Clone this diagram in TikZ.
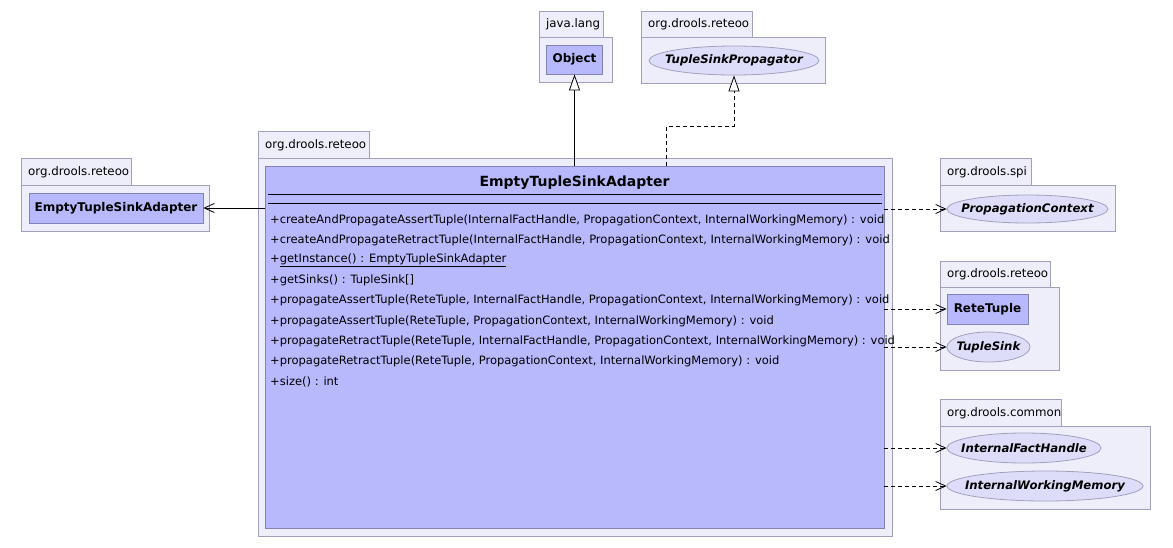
\documentclass[tikz,border=0pt]{standalone}
\usepackage{fontspec}
\setmainfont{DejaVu Sans}
\usetikzlibrary{arrows.meta,shapes.geometric}

\definecolor{pkgfill}{RGB}{238,238,251}
\definecolor{pkgline}{RGB}{160,160,190}
\definecolor{clsfill}{RGB}{184,184,253}
\definecolor{clsline}{RGB}{130,130,180}
\definecolor{ifcfill}{RGB}{221,221,250}

\begin{document}
\begin{tikzpicture}[x=1pt,y=-1pt,
        pkg/.style={draw=pkgline,fill=pkgfill,line width=0.8pt},
        pkgname/.style={anchor=west,inner sep=0pt,font=\fontsize{11.8}{13}\selectfont},
        cls/.style={draw=clsline,fill=clsfill,line width=0.8pt,inner sep=0pt,font=\bfseries\fontsize{12}{14}\selectfont},
        ifc/.style={ellipse,draw=pkgline,fill=ifcfill,line width=0.8pt,inner sep=0pt,font=\bfseries\itshape\fontsize{11.7}{13}\selectfont},
        op/.style={anchor=west,inner sep=0pt,font=\fontsize{11.5}{13}\selectfont},
        dep/.style={dashed,dash pattern=on 4pt off 3pt,line width=0.8pt,-{Straight Barb[length=10pt,width=9pt]}},
        assoc/.style={line width=0.8pt,-{Straight Barb[length=10pt,width=9pt]}},
        gen/.style={line width=0.8pt,-{Triangle[length=16pt,width=11pt,fill=white]}},
        real/.style={dashed,dash pattern=on 4pt off 3pt,line width=0.8pt,-{Triangle[length=16pt,width=11pt,fill=white]}}
    ]
    \useasboundingbox (0,0) rectangle (1173,547);

    % java.lang
    \draw[pkg] (539,11) rectangle (603,37);
    \draw[pkg] (539,37) rectangle (612,82);
    \node[pkgname] (langname) at (546,24) {java.lang};
    \node[cls,minimum width=56,minimum height=29] (object) at (574.5,59.5) {Object};

    % org.drools.reteoo (top)
    \draw[pkg] (641,11) rectangle (752,37);
    \draw[pkg] (641,37) rectangle (825,83);
    \node[pkgname] (topname) at (648,24) {org.drools.reteoo};
    \node[ifc,minimum width=170,minimum height=29] (propagator) at (734,60.5) {\makebox[0pt]{TupleSinkPropagator}};

    % org.drools.reteoo (left)
    \draw[pkg] (21,158) rectangle (131,185);
    \draw[pkg] (21,185) rectangle (209,231);
    \node[pkgname] (leftname) at (28,172) {org.drools.reteoo};
    \node[cls,minimum width=174,minimum height=30] (adapter) at (116,208) {EmptyTupleSinkAdapter};

    % org.drools.reteoo (main)
    \draw[pkg] (258,131) rectangle (369,158);
    \draw[pkg] (258,158) rectangle (892,536);
    \node[pkgname] (mainname) at (265,145) {org.drools.reteoo};
    \node[cls,minimum width=619,minimum height=362] (main) at (574.5,347) {};
    \node[inner sep=0pt,font=\bfseries\fontsize{14}{16}\selectfont] (title) at (574.5,183) {EmptyTupleSinkAdapter};
    \draw[line width=0.8pt] (268,194) -- (882,194);
    \draw[line width=0.8pt] (268,203) -- (882,203);
    \foreach \m [count=\i from 0] in {
        {+createAndPropagateAssertTuple(InternalFactHandle, PropagationContext, InternalWorkingMemory) : void},
        {+createAndPropagateRetractTuple(InternalFactHandle, PropagationContext, InternalWorkingMemory) : void},
        {+\underline{getInstance() : EmptyTupleSinkAdapter}},
        {+getSinks() : TupleSink[]},
        {+propagateAssertTuple(ReteTuple, InternalFactHandle, PropagationContext, InternalWorkingMemory) : void},
        {+propagateAssertTuple(ReteTuple, PropagationContext, InternalWorkingMemory) : void},
        {+propagateRetractTuple(ReteTuple, InternalFactHandle, PropagationContext, InternalWorkingMemory) : void},
        {+propagateRetractTuple(ReteTuple, PropagationContext, InternalWorkingMemory) : void},
        {+size() : int}}
        \node[op] (op\i) at (270,{220+20.2*\i}) {\m};

    % org.drools.spi
    \draw[pkg] (940,158) rectangle (1031,185);
    \draw[pkg] (940,185) rectangle (1115,231);
    \node[pkgname] (spiname) at (947,172) {org.drools.spi};
    \node[ifc,minimum width=161,minimum height=28] (context) at (1027.5,209) {\makebox[0pt]{PropagationContext}};

    % org.drools.reteoo (right)
    \draw[pkg] (940,261) rectangle (1050,287);
    \draw[pkg] (940,287) rectangle (1059,370);
    \node[pkgname] (rightname) at (947,274) {org.drools.reteoo};
    \node[cls,minimum width=81,minimum height=30] (tuple) at (987.5,309) {ReteTuple};
    \node[ifc,minimum width=83,minimum height=30] (sink) at (988.5,347) {\makebox[0pt]{TupleSink}};

    % org.drools.common
    \draw[pkg] (940,399) rectangle (1061,426);
    \draw[pkg] (940,426) rectangle (1150,509);
    \node[pkgname] (commonname) at (947,413) {org.drools.common};
    \node[ifc,minimum width=154,minimum height=30] (handle) at (1024,448) {\makebox[0pt]{InternalFactHandle}};
    \node[ifc,minimum width=196,minimum height=30] (memory) at (1045,486) {\makebox[0pt]{InternalWorkingMemory}};

    % relations
    \coordinate (bend) at (666.5,126);
    \draw[gen] (main.north -| object.south) -- (object.south);
    \draw[real] (main.north -| bend) -- (bend) -| (propagator.south);
    \draw[assoc] (main.west |- adapter.east) -- (adapter.east);
    \draw[dep] (main.east |- context.west) -- (context.west);
    \draw[dep] (main.east |- tuple.west) -- (tuple.west);
    \draw[dep] (main.east |- sink.west) -- (sink.west);
    \draw[dep] (main.east |- handle.west) -- (handle.west);
    \draw[dep] (main.east |- memory.west) -- (memory.west);
\end{tikzpicture}
\end{document}
